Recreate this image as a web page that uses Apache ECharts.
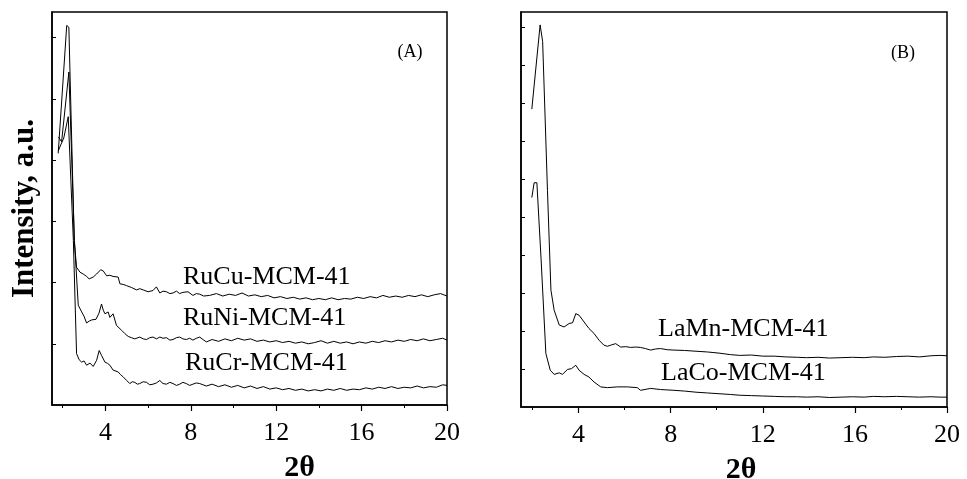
<!DOCTYPE html>
<html>
<head>
<meta charset="utf-8">
<script src="https://cdn.jsdelivr.net/npm/echarts@6/dist/echarts.min.js"></script>
<style>
html, body { margin: 0; padding: 0; background: #fff; }
#main { width: 967px; height: 479px; }
</style>
</head>
<body>
<div id="main"></div>
<script>
//------------------------- data -------------------------
// x axis (2 theta) ticks
var xMajor = [4, 8, 12, 16, 20];
var xMinor = [2, 6, 10, 14, 18];
var yTicksA = [1, 2, 3, 4, 5, 6];
var yTicksB = [1, 2, 3, 4, 5, 6, 7, 8, 9, 10];

// panel (A)
var ruCu = [[1.79,4.11],[2.19,6.20],[2.29,6.17],[2.54,2.69],[2.65,2.25],[2.81,2.17],[2.96,2.14],[3.12,2.10],[3.24,2.06],[3.43,2.09],[3.59,2.14],[3.78,2.21],[3.90,2.19],[4.06,2.11],[4.21,2.12],[4.36,2.10],[4.60,2.09],[4.68,1.98],[4.83,1.97],[4.99,1.95],[5.22,1.92],[5.46,1.88],[5.61,1.90],[5.77,1.88],[6.00,1.85],[6.23,1.87],[6.39,1.93],[6.55,1.83],[6.70,1.86],[6.86,1.85],[7.02,1.82],[7.17,1.83],[7.33,1.86],[7.48,1.82],[7.63,1.84],[7.87,1.85],[8.10,1.79],[8.26,1.82],[8.42,1.81],[8.60,1.78],[8.88,1.79],
  [9.2,1.82],[9.5,1.78],[9.8,1.81],[10.1,1.79],[10.4,1.83],[10.7,1.78],[11.0,1.80],[11.3,1.77],[11.6,1.79],[11.9,1.75],[12.2,1.77],[12.5,1.74],[12.8,1.76],[13.1,1.73],[13.4,1.75],[13.7,1.72],[14.0,1.74],[14.3,1.72],[14.6,1.75],[14.9,1.72],[15.2,1.74],[15.5,1.73],[15.8,1.76],[16.1,1.74],[16.4,1.77],[16.7,1.75],[17.0,1.79],[17.3,1.76],[17.6,1.78],[17.9,1.76],[18.2,1.79],[18.5,1.77],[18.8,1.80],[19.1,1.77],[19.4,1.80],[19.7,1.82],[20.0,1.78]];
var ruNi = [[1.80,4.38],[1.95,4.30],[2.29,5.44],[2.55,2.69],[2.73,1.63],[2.89,1.52],[3.00,1.45],[3.12,1.34],[3.24,1.37],[3.36,1.39],[3.56,1.40],[3.70,1.50],[3.82,1.65],[3.90,1.55],[3.98,1.49],[4.13,1.52],[4.21,1.43],[4.36,1.49],[4.52,1.30],[4.76,1.22],[4.90,1.17],[5.07,1.12],[5.22,1.10],[5.38,1.08],[5.61,1.11],[5.77,1.08],[5.93,1.07],[6.08,1.10],[6.23,1.11],[6.39,1.08],[6.55,1.11],[6.70,1.09],[6.86,1.10],[7.02,1.06],[7.17,1.07],[7.33,1.10],[7.48,1.11],[7.63,1.08],[7.79,1.07],[7.95,1.09],[8.10,1.06],[8.26,1.09],[8.42,1.11],[8.57,1.07],[8.73,1.03],
  [9.0,1.07],[9.3,1.04],[9.6,1.08],[9.9,1.05],[10.2,1.09],[10.5,1.06],[10.8,1.08],[11.1,1.04],[11.4,1.06],[11.7,1.03],[12.0,1.05],[12.3,1.02],[12.6,1.04],[12.9,1.01],[13.2,1.03],[13.5,1.00],[13.8,1.02],[14.1,1.05],[14.4,1.01],[14.7,1.04],[15.0,1.01],[15.3,1.03],[15.6,1.00],[15.9,1.03],[16.2,1.01],[16.5,1.04],[16.8,1.02],[17.1,1.05],[17.4,1.03],[17.7,1.06],[18.0,1.04],[18.3,1.07],[18.6,1.05],[18.9,1.08],[19.2,1.05],[19.5,1.07],[19.8,1.09],[20.0,1.06]];
var ruCr = [[1.79,4.15],[1.95,4.28],[2.05,4.36],[2.26,4.71],[2.50,2.69],[2.65,0.84],[2.77,0.74],[2.89,0.70],[3.00,0.72],[3.12,0.65],[3.28,0.685],[3.43,0.63],[3.59,0.73],[3.71,0.89],[3.82,0.81],[3.90,0.78],[3.98,0.70],[4.10,0.68],[4.21,0.65],[4.36,0.57],[4.45,0.59],[4.60,0.54],[4.70,0.50],[4.83,0.46],[5.00,0.40],[5.14,0.35],[5.26,0.38],[5.38,0.37],[5.50,0.34],[5.61,0.35],[5.77,0.38],[5.93,0.37],[6.08,0.33],[6.23,0.34],[6.39,0.36],[6.55,0.40],[6.70,0.35],[6.86,0.34],[7.02,0.37],[7.17,0.35],[7.33,0.32],[7.48,0.34],[7.63,0.37],[7.79,0.35],[7.95,0.32],[8.10,0.34],[8.26,0.36],[8.42,0.35],[8.57,0.33],[8.73,0.31],
  [9.0,0.34],[9.3,0.30],[9.6,0.33],[9.9,0.29],[10.2,0.32],[10.5,0.28],[10.8,0.31],[11.1,0.27],[11.4,0.30],[11.7,0.26],[12.0,0.28],[12.3,0.25],[12.6,0.27],[12.9,0.24],[13.2,0.26],[13.5,0.23],[13.8,0.25],[14.1,0.23],[14.4,0.26],[14.7,0.24],[15.0,0.27],[15.3,0.24],[15.6,0.26],[15.9,0.25],[16.2,0.28],[16.5,0.26],[16.8,0.29],[17.1,0.27],[17.4,0.30],[17.7,0.27],[18.0,0.29],[18.3,0.28],[18.6,0.31],[18.9,0.28],[19.2,0.30],[19.5,0.29],[19.8,0.33],[20.0,0.32]];

// panel (B)
var laMn = [[1.97,7.85],[2.33,10.07],[2.44,9.63],[2.65,5.70],[2.80,3.08],[2.94,2.55],[3.16,2.16],[3.37,2.11],[3.59,2.20],[3.74,2.22],[3.88,2.46],[4.02,2.42],[4.24,2.24],[4.45,2.07],[4.67,1.94],[4.89,1.76],[5.10,1.63],[5.25,1.60],[5.40,1.63],[5.61,1.67],[5.83,1.58],[6.05,1.59],[6.26,1.57],[6.48,1.58],[6.69,1.57],[6.90,1.54],[7.13,1.50],[7.35,1.53],[7.56,1.54],[7.85,1.51],[8.14,1.50],
  [8.6,1.49],[9.1,1.47],[9.6,1.45],[10.1,1.42],[10.6,1.38],[11.0,1.36],[11.5,1.37],[12.0,1.34],[12.5,1.34],[13.0,1.32],[13.5,1.31],[13.9,1.30],[14.4,1.31],[14.9,1.29],[15.4,1.30],[15.9,1.31],[16.4,1.30],[16.8,1.32],[17.3,1.31],[17.8,1.33],[18.3,1.34],[18.8,1.32],[19.3,1.35],[19.7,1.36],[20.0,1.35]];
var laCo = [[1.97,5.52],[2.07,5.91],[2.19,5.91],[2.37,3.92],[2.58,1.41],[2.77,0.97],[2.94,0.86],[3.16,0.90],[3.30,0.86],[3.52,0.99],[3.69,1.01],[3.88,1.10],[4.02,0.97],[4.24,0.86],[4.45,0.79],[4.67,0.66],[4.96,0.53],[5.25,0.51],[5.69,0.53],[6.12,0.53],[6.55,0.51],[6.69,0.44],[7.13,0.49],[7.56,0.46],[8.14,0.44],
  [8.6,0.42],[9.1,0.39],[9.6,0.37],[10.1,0.35],[10.6,0.33],[11.0,0.31],[11.5,0.30],[12.0,0.29],[12.5,0.28],[13.0,0.27],[13.5,0.27],[13.9,0.26],[14.4,0.27],[14.9,0.25],[15.4,0.26],[15.9,0.27],[16.4,0.26],[16.8,0.28],[17.3,0.27],[17.8,0.28],[18.3,0.27],[18.8,0.26],[19.3,0.27],[19.7,0.26],[20.0,0.26]];

var serif = '"Liberation Serif", "Times New Roman", serif';

//------------------------- chart -------------------------
function xAxisMajor(grid, shift) {
    return {
        type: 'value', gridIndex: grid, min: 1.5, max: 20, position: 'bottom',
        name: '2θ', nameLocation: 'middle', nameGap: 48,
        nameTextStyle: { fontFamily: serif, fontWeight: 'bold', fontSize: 30, color: '#000', padding: [0, 0, 0, shift] },
        axisLine: { show: true, onZero: false, lineStyle: { color: '#000', width: 1.5 } },
        axisTick: { show: true, length: 6, customValues: xMajor, lineStyle: { color: '#000', width: 1.2 } },
        axisLabel: { show: true, customValues: xMajor, margin: 15, fontFamily: serif, fontSize: 26, color: '#000' },
        splitLine: { show: false }
    };
}
function xAxisMinor(grid) {
    return {
        type: 'value', gridIndex: grid, min: 1.5, max: 20, position: 'bottom',
        axisLine: { show: false },
        axisTick: { show: true, length: 3, customValues: xMinor, lineStyle: { color: '#000', width: 1 } },
        axisLabel: { show: false },
        splitLine: { show: false }
    };
}
function yAxisOf(grid, max, ticks, name) {
    return {
        type: 'value', gridIndex: grid, min: 0, max: max,
        name: name, nameLocation: 'middle', nameGap: 12, nameRotate: 90,
        nameTextStyle: { fontFamily: serif, fontWeight: 'bold', fontSize: 31, color: '#000' },
        axisLine: { show: true, onZero: false, lineStyle: { color: '#000', width: 1.5 } },
        axisTick: { show: true, inside: true, length: 4, customValues: ticks, lineStyle: { color: '#000', width: 1 } },
        axisLabel: { show: false },
        splitLine: { show: false }
    };
}
function lineOf(data, x, y) {
    return {
        type: 'line', data: data, xAxisIndex: x, yAxisIndex: y,
        showSymbol: false, symbol: 'none', silent: true, animation: false,
        lineStyle: { color: '#000', width: 1 }
    };
}
function textOf(str, x, y, size, align) {
    return {
        type: 'text', x: x, y: y, silent: true,
        style: { text: str, fill: '#000', font: 'normal ' + size + 'px ' + serif, align: align, verticalAlign: 'middle' }
    };
}

var myChart = echarts.init(document.getElementById('main'), null, { renderer: 'canvas' });
var option = {
    backgroundColor: '#fff',
    animation: false,
    grid: [
        { left: 52, top: 12, width: 395, height: 393, show: true, borderColor: '#000', borderWidth: 1.5, containLabel: false, outerBoundsMode: 'none' },
        { left: 521, top: 12, width: 426, height: 395, show: true, borderColor: '#000', borderWidth: 1.5, containLabel: false, outerBoundsMode: 'none' }
    ],
    xAxis: [xAxisMajor(0, 100), xAxisMinor(0), xAxisMajor(1, 14), xAxisMinor(1)],
    yAxis: [yAxisOf(0, 6.42, yTicksA, 'Intensity, a.u.'), yAxisOf(1, 10.41, yTicksB, '')],
    series: [
        lineOf(ruCu, 0, 0), lineOf(ruNi, 0, 0), lineOf(ruCr, 0, 0),
        lineOf(laMn, 2, 1), lineOf(laCo, 2, 1)
    ],
    graphic: [
        textOf('RuCu-MCM-41', 183, 277, 26, 'left'),
        textOf('RuNi-MCM-41', 183, 318, 26, 'left'),
        textOf('RuCr-MCM-41', 185, 363, 26, 'left'),
        textOf('LaMn-MCM-41', 658, 329, 26, 'left'),
        textOf('LaCo-MCM-41', 661, 373, 26, 'left'),
        textOf('(A)', 410, 52, 18, 'center'),
        textOf('(B)', 903, 53, 18, 'center')
    ]
};
myChart.setOption(option);
</script>
</body>
</html>
